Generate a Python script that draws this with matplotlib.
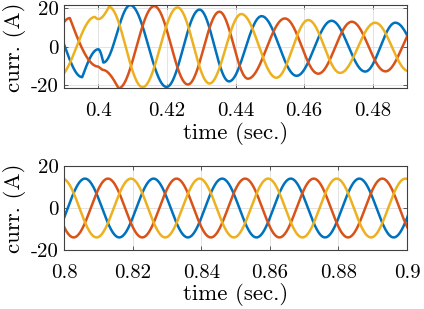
import numpy as np
import matplotlib
matplotlib.use('Agg')
import matplotlib.pyplot as plt

# key points: time (s), current (A), kind
# kind: 'e' = smooth turning point, 'c' = sharp corner
blue_t1 = [0.3853, 0.3953, 0.4000, 0.40146, 0.4093, 0.4199, 0.4295, 0.4381,
           0.4476, 0.4578, 0.4680, 0.4778, 0.4866, 0.4966]
blue_v1 = [15.5, -15.7, -1.2, -8.1, 21.7, -20.8, 19.4, -17.9,
           16.0, -15.0, 13.6, -12.8, 12.6, -12.4]
blue_k1 = 'eecee' + 'e' * 9

red_t1 = [0.3817, 0.3917, 0.4000, 0.4012, 0.4059, 0.4163, 0.4261, 0.4353,
          0.4436, 0.4544, 0.4641, 0.4739, 0.4837, 0.4935]
red_v1 = [-15.3, 15.0, -10.2, -11.9, -21.5, 21.2, -19.5, 18.3,
          -16.5, 14.8, -13.9, 13.1, -12.7, 12.5]
red_k1 = 'eecce' + 'e' * 9

yellow_t1 = [0.3783, 0.3883, 0.3990, 0.4000, 0.4031, 0.4129, 0.4231, 0.4324,
             0.4417, 0.4519, 0.4612, 0.4705, 0.4807, 0.4905]
yellow_v1 = [15.5, -15.5, 15.6, 14.5, 20.8, -20.9, 20.5, -19.0,
             17.1, -16.0, 14.0, -13.5, 12.6, -12.6]
yellow_k1 = 'eeece' + 'e' * 9

# steady state
blue_t2 = [0.7961, 0.8061, 0.8161, 0.8261, 0.8361, 0.8461, 0.8561, 0.8661,
           0.8761, 0.8861, 0.8961, 0.9061]
blue_v2 = [-14, 14, -14, 14, -14, 14, -14, 14, -14, 14, -14, 14]
red_t2 = [0.7928, 0.8028, 0.8128, 0.8228, 0.8328, 0.8428, 0.8528, 0.8628,
          0.8728, 0.8828, 0.8928, 0.9028]
red_v2 = [14, -14, 14, -14, 14, -14, 14, -14, 14, -14, 14, -14]
yellow_t2 = [0.7995, 0.8095, 0.8195, 0.8295, 0.8395, 0.8495, 0.8595, 0.8695,
             0.8795, 0.8895, 0.8995, 0.9095]
yellow_v2 = [14, -14, 14, -14, 14, -14, 14, -14, 14, -14, 14, -14]

top_xticks = [0.4, 0.42, 0.44, 0.46, 0.48]
top_xticklabels = ['0.4', '0.42', '0.44', '0.46', '0.48']
bot_xticks = [0.8, 0.82, 0.84, 0.86, 0.88, 0.9]
bot_xticklabels = ['0.8', '0.82', '0.84', '0.86', '0.88', '0.9']
yticks = [-20, 0, 20]
yticklabels = ['-20', '0', '20']

colors = ['#0072BD', '#D95319', '#EDB120']


def trace(ts, vs, kinds=None, n=80):
    if kinds is None:
        kinds = 'e' * len(ts)
    tt, yy = [], []
    for i in range(len(ts) - 1):
        s = np.linspace(0, 1, n, endpoint=False)
        a, b = kinds[i], kinds[i + 1]
        if a == 'e' and b == 'e':
            f = (1 - np.cos(np.pi * s)) / 2
        elif a == 'e':
            f = np.sin(np.pi * s / 2)
        elif b == 'e':
            f = 1 - np.cos(np.pi * s / 2)
        else:
            f = s
        tt.append(ts[i] + (ts[i + 1] - ts[i]) * s)
        yy.append(vs[i] + (vs[i + 1] - vs[i]) * f)
    tt.append([ts[-1]])
    yy.append([vs[-1]])
    return np.concatenate(tt), np.concatenate(yy)


plt.rcParams['font.family'] = 'cmr10'
plt.rcParams['axes.unicode_minus'] = False
plt.rcParams['mathtext.fontset'] = 'cm'

fig = plt.figure(figsize=(4.24, 3.09), dpi=100)
ax1 = fig.add_axes([0.151, 0.7136, 0.809, 0.2702])
ax2 = fig.add_axes([0.151, 0.1909, 0.809, 0.2718])

for t, v, k, c in [(blue_t1, blue_v1, blue_k1, colors[0]),
                   (red_t1, red_v1, red_k1, colors[1]),
                   (yellow_t1, yellow_v1, yellow_k1, colors[2])]:
    x, y = trace(t, v, k)
    ax1.plot(x, y, color=c, lw=1.8)

for t, v, c in [(blue_t2, blue_v2, colors[0]),
                (red_t2, red_v2, colors[1]),
                (yellow_t2, yellow_v2, colors[2])]:
    x, y = trace(t, v)
    ax2.plot(x, y, color=c, lw=1.8)

ax1.set_xlim(0.39, 0.49)
ax1.set_ylim(-21.6, 21.8)
ax1.set_xticks(top_xticks)
ax1.set_xticklabels(top_xticklabels)
ax2.set_xlim(0.8, 0.9)
ax2.set_ylim(-20, 20)
ax2.set_xticks(bot_xticks)
ax2.set_xticklabels(bot_xticklabels)

for ax in (ax1, ax2):
    ax.set_yticks(yticks)
    ax.set_yticklabels(yticklabels)
    ax.grid(True, color='#dedede', lw=0.6)
    ax.set_axisbelow(True)
    ax.tick_params(direction='in', top=True, right=True, length=3,
                   width=0.6, color='#404040', labelsize=15, pad=4)
    ax.tick_params(axis='x', pad=10)
    for sp in ax.spines.values():
        sp.set_color('#404040')
        sp.set_linewidth(0.8)
    ax.set_xlabel('time (sec.)', fontsize=16.5, labelpad=1)
    ax.set_ylabel('curr. (A)', fontsize=16.5, labelpad=3)

fig.savefig('out.png', dpi=100)
